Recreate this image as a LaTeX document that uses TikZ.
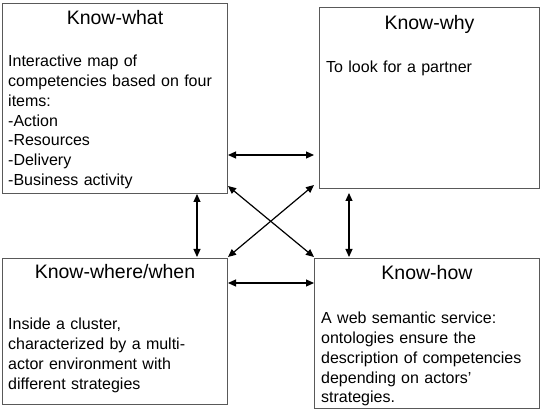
\documentclass[tikz,border=0pt]{standalone}
\usepackage{fontspec}
\setmainfont{Liberation Sans}
\usetikzlibrary{arrows.meta}
\begin{document}
\begin{tikzpicture}[x=1pt,y=-1pt,
  box/.style={draw=black!65,line width=1pt,fill=white,anchor=north west,inner sep=0pt},
  title/.style={anchor=base,inner sep=0pt,font=\fontsize{19.5}{22}\selectfont},
  body/.style={anchor=base west,inner sep=0pt,text width=225pt,align=left,font=\fontsize{16}{19.7}\selectfont},
  link/.style={line width=1.2pt,{Triangle[length=8pt,width=7pt]}-{Triangle[length=8pt,width=7pt]}}]
\useasboundingbox (0,0) rectangle (542,409);
\fill[white] (0,0) rectangle (542,409);
% boxes
\node[box,minimum width=225pt,minimum height=190pt] (w) at (2,3) {};
\node[box,minimum width=220pt,minimum height=181pt] (y) at (319,7) {};
\node[box,minimum width=225pt,minimum height=146pt] (ww) at (2,258) {};
\node[box,minimum width=225pt,minimum height=150pt] (h) at (314,258) {};
% titles
\node[title] (wt) at (w.north |- 0,25) {Know-what};
\node[title] (yt) at (y.north |- 0,30) {Know-why};
\node[title] (wwt) at (ww.north |- 0,279) {Know-where/when};
\node[title] (ht) at (h.north |- 0,280) {Know-how};
% bodies
\node[body] (wb) at (8,67) {Interactive map of\\competencies based on four\\items:\\-Action\\-Resources\\-Delivery\\-Business activity};
\node[body] (yb) at (326,73) {To look for a partner};
\node[body] (wwb) at (8,330) {Inside a cluster,\\characterized by a multi-\\actor environment with\\different strategies};
\node[body] (hb) at (321,324) {A web semantic service:\\ontologies ensure the\\description of competencies\\depending on actors'\\strategies.};
% connectors
\draw[link] (w.east |- 0,155) -- ([xshift=-5pt]y.west |- 0,155);
\draw[link] ([yshift=8pt]w.south east) -- ([yshift=1pt]h.north west);
\draw[link] ([yshift=1pt]ww.north east) -- ([xshift=-5pt,yshift=4pt]y.south west);
\draw[link] (w.south -| 197,0) -- ([yshift=1pt]ww.north -| 197,0);
\draw[link] ([yshift=-4pt]y.south -| 349,0) -- ([yshift=1pt]h.north -| 349,0);
\draw[link] (ww.east |- 0,283) -- (h.west |- 0,283);
\end{tikzpicture}
\end{document}
